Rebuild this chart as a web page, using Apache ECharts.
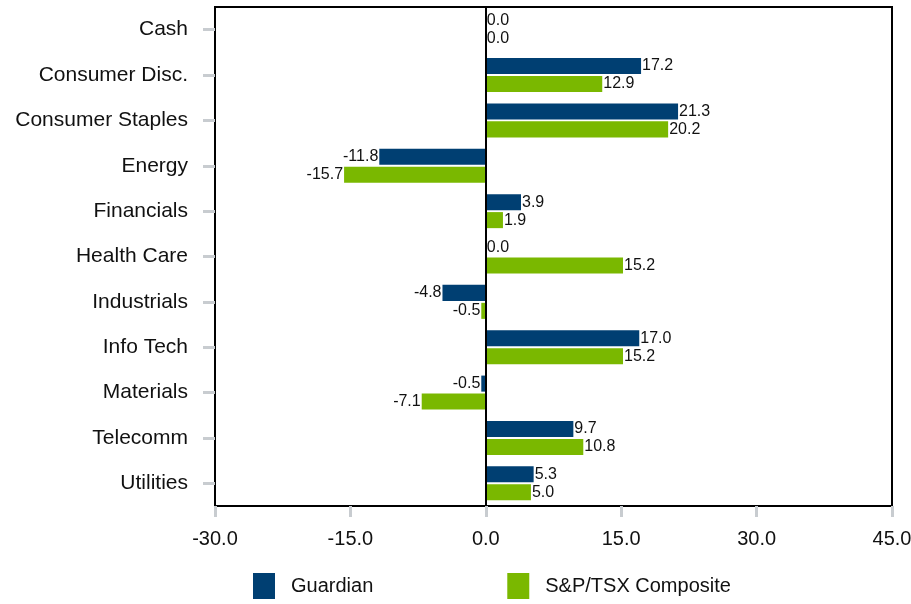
<!DOCTYPE html>
<html>
<head>
<meta charset="utf-8">
<script src="https://cdn.jsdelivr.net/npm/echarts@6/dist/echarts.min.js"></script>
<style>
html,body{margin:0;padding:0;background:#fff;}
#chart{width:911px;height:604px;}
</style>
</head>
<body>
<div id="chart"></div>
<script>
// Sector weights: Guardian vs S&P/TSX Composite
const sectors = ['Cash', 'Consumer Disc.', 'Consumer Staples', 'Energy', 'Financials', 'Health Care', 'Industrials', 'Info Tech', 'Materials', 'Telecomm', 'Utilities'];
const guardian = [0.0, 17.2, 21.3, -11.8, 3.9, 0.0, -4.8, 17.0, -0.5, 9.7, 5.3];
const tsx = [0.0, 12.9, 20.2, -15.7, 1.9, 15.2, -0.5, 15.2, -7.1, 10.8, 5.0];
const seriesNames = ['Guardian', 'S&P/TSX Composite'];
const seriesColors = ['#003f72', '#7ab800'];

const FONT = 'Liberation Sans, Arial, sans-serif';

function withLabels(values) {
  return values.map(v => ({
    value: v,
    label: { position: v < 0 ? 'left' : 'right' }
  }));
}

function makeSeries(i, values) {
  const s = {
    name: seriesNames[i],
    type: 'bar',
    data: withLabels(values),
    itemStyle: { color: seriesColors[i] },
    barCategoryGap: '25%',
    barGap: '12%',
    label: {
      show: true,
      distance: 1,
      color: '#111',
      fontSize: 16,
      fontFamily: FONT,
      formatter: p => p.value.toFixed(1)
    }
  };
  if (i === 0) {
    s.markLine = {
      silent: true,
      symbol: 'none',
      label: { show: false },
      lineStyle: { color: '#000', width: 2, type: 'solid' },
      data: [{ xAxis: 0 }]
    };
  }
  return s;
}

const chart = echarts.init(document.getElementById('chart'), null, { renderer: 'canvas' });
chart.setOption({
  animation: false,
  backgroundColor: '#fff',
  grid: {
    left: 215, top: 7, width: 677, height: 499,
    containLabel: false, outerBoundsMode: 'none',
    show: true, borderColor: '#000', borderWidth: 2, backgroundColor: 'transparent'
  },
  legend: {
    left: 248, top: 568,
    itemWidth: 22, itemHeight: 26, itemGap: 134,
    icon: 'rect',
    textStyle: { fontSize: 20, color: '#111', fontFamily: FONT, padding: [0, 0, 0, 11] },
    data: seriesNames
  },
  xAxis: {
    type: 'value',
    min: -30, max: 45, interval: 15,
    axisLine: { show: false },
    axisTick: { show: true, length: 11, lineStyle: { color: '#c8ccd0', width: 3 } },
    splitLine: { show: false },
    axisLabel: { color: '#111', fontSize: 20, fontFamily: FONT, margin: 23, formatter: v => v.toFixed(1) }
  },
  yAxis: {
    type: 'category',
    inverse: true,
    data: sectors,
    axisLine: { show: false, onZero: false },
    axisTick: { show: true, alignWithLabel: true, length: 12, lineStyle: { color: '#c8ccd0', width: 3 } },
    axisLabel: { color: '#111', fontSize: 21, fontFamily: FONT, margin: 27 }
  },
  series: [makeSeries(0, guardian), makeSeries(1, tsx)]
});
</script>
</body>
</html>
